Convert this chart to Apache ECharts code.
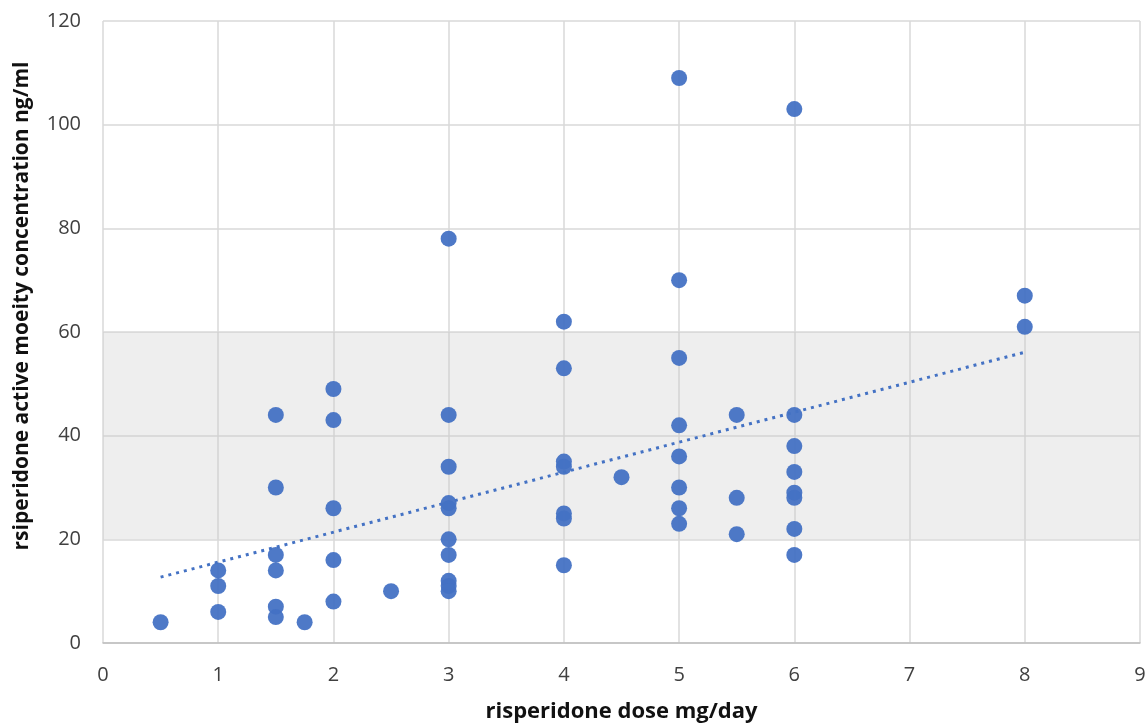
<!DOCTYPE html>
<html><head><meta charset="utf-8">
<script src="https://cdn.jsdelivr.net/npm/echarts@6/dist/echarts.min.js"></script>
<style>html,body{margin:0;padding:0;background:#fff}#c{width:1145px;height:724px}</style>
</head><body><div id="c"></div>
<script>
const doses = [0.5, 1,1,1, 1.5,1.5,1.5,1.5,1.5,1.5, 1.75, 2,2,2,2,2, 2.5,
  3,3,3,3,3,3,3,3,3,3, 4,4,4,4,4,4,4, 4.5, 5,5,5,5,5,5,5,5, 5.5,5.5,5.5,
  6,6,6,6,6,6,6,6, 8,8];
const concentrations = [4, 14,11,6, 44,30,17,14,7,5, 4, 49,43,26,16,8, 10,
  78,44,34,27,26,20,17,12,11,10, 62,53,35,34,25,24,15, 32, 109,70,55,42,36,30,26,23, 44,28,21,
  103,44,38,33,29,28,22,17, 67,61];
const trendX = [0.5, 8];
const trendY = [12.7, 56.1];
const bandRange = [20, 60];
const xTicks = [0,1,2,3,4,5,6,7,8,9];
const yTicks = [0,20,40,60,80,100,120];
const xName = 'risperidone dose mg/day';
const yName = 'rsiperidone active moeity concentration ng/ml';

const points = doses.map((d,i)=>[d, concentrations[i]]);
const trend = trendX.map((x,i)=>[x, trendY[i]]);
const font = '"Open Sans", "Liberation Sans", sans-serif';
const chart = echarts.init(document.getElementById('c'));
chart.setOption({
  animation:false,
  grid:{left:103, right:5, top:21, bottom:81, containLabel:false, outerBoundsMode:'none'},
  xAxis:{type:'value', min:xTicks[0], max:xTicks[xTicks.length-1], interval:1,
    name:xName, nameLocation:'middle', nameGap:58,
    nameTextStyle:{fontFamily:font, fontSize:22, fontWeight:'bold', color:'#111'},
    axisLine:{show:true, lineStyle:{color:'#bfbfbf', width:1.5}},
    axisTick:{show:false},
    axisLabel:{fontFamily:font, fontSize:20, color:'#404040', margin:22},
    splitLine:{show:true, lineStyle:{color:'#d9d9d9', width:1.5}}},
  yAxis:{type:'value', min:yTicks[0], max:yTicks[yTicks.length-1], interval:20,
    name:yName, nameLocation:'middle', nameGap:70, nameRotate:90,
    nameTextStyle:{fontFamily:font, fontSize:21, fontWeight:'bold', color:'#111', padding:[0,0,0,52]},
    axisLine:{show:false}, axisTick:{show:false},
    axisLabel:{fontFamily:font, fontSize:20, color:'#404040', margin:22},
    splitLine:{show:true, lineStyle:{color:'#d9d9d9', width:1.5}}},
  series:[
    {type:'scatter', data:points, symbolSize:16, z:3,
      itemStyle:{color:'#4472C4', opacity:0.95},
      markArea:{silent:true, itemStyle:{color:'rgba(200,200,200,0.3)'},
        data:[[{yAxis:bandRange[0]},{yAxis:bandRange[1]}]]}},
    {type:'line', data:trend, symbol:'none', z:4,
      lineStyle:{color:'#4472C4', width:3, type:[3,5]}}
  ]
});
</script></body></html>
